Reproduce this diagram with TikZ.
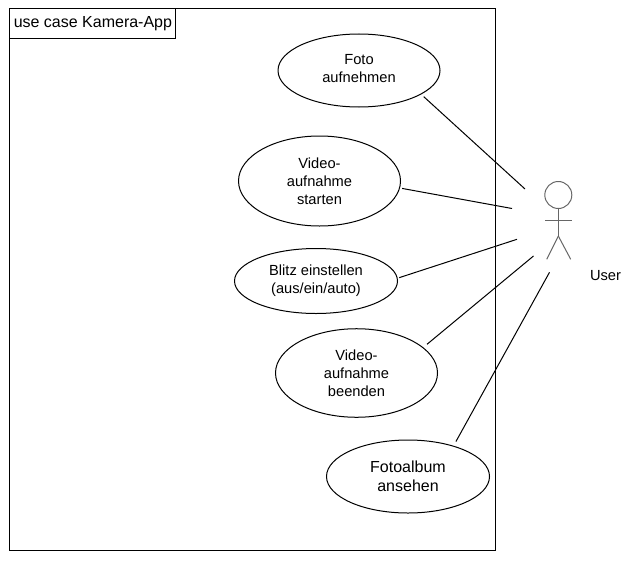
\documentclass[tikz,border=0pt]{standalone}
\usepackage{fontspec}
\setmainfont{Liberation Sans}
\usetikzlibrary{shapes.geometric}
\tikzset{
 px/.style={x=0.75pt,y=-0.75pt},
 uctext/.style={align=center,font=\fontsize{11pt}{13.5pt}\selectfont,text=black},
 uc/.style={draw,ellipse,line width=0.75pt,minimum width=121.5pt,minimum height=54.75pt,inner sep=0pt,uctext},
 ucbig/.style={uc,font=\fontsize{12pt}{14.25pt}\selectfont},
 assoc/.style={line width=0.75pt},
 actorline/.style={line width=0.75pt,draw=black!60}
}
\begin{document}
\begin{tikzpicture}[px]
\useasboundingbox (0,0) rectangle (630,560);
\node[draw,line width=0.75pt,inner sep=0pt,minimum width=364.5pt,minimum height=405.75pt] (sys) at (252,279.5) {};
\node[draw,line width=0.75pt,anchor=north west,inner sep=0pt,minimum width=124.5pt,minimum height=22.25pt] (frame) at (sys.north west) {};
\node[anchor=west,inner sep=0pt,font=\fontsize{12pt}{14pt}\selectfont] (title) at (13.5,24) {use case Kamera-App};
\node[uc,label={[uctext,yshift=1.2pt]center:Foto\\aufnehmen}] (a) at (359,70.5) {};
\node[uc,minimum height=67.5pt] (b) at (319.5,181) {Video-\\aufnahme\\starten};
\node[uc,minimum width=122.25pt,minimum height=48.75pt] (c) at (316,281) {Blitz einstellen\\(aus/ein/auto)};
\node[uc,minimum height=66.4pt] (d) at (356.5,373) {Video-\\aufnahme\\beenden};
\node[ucbig,minimum width=122.25pt] (e) at (408,476.5) {Fotoalbum\\ansehen};
\coordinate (ea) at (525,189);
\coordinate (eb) at (512,208.5);
\coordinate (ec) at (517,239.3);
\coordinate (ed) at (533.5,256);
\coordinate (ee) at (549.5,272.3);
\draw[assoc,shorten <=2.5pt] (a.-21) -- (ea);
\draw[assoc,shorten <=1.6pt] (b.-5) -- (eb);
\draw[assoc,shorten <=1.2pt] (c.2) -- (ec);
\draw[assoc,shorten <=3.6pt] (d.21) -- (ed);
\draw[assoc,shorten <=3.6pt] (e.34) -- (ee);
\node[draw=black!60,circle,line width=0.75pt,minimum size=20.25pt,inner sep=0pt] (head) at (558.3,195) {};
\coordinate (hip) at (558.3,236);
\coordinate (armL) at (545,220.3);
\coordinate (armR) at (572,220.3);
\coordinate (legL) at (546.7,259.3);
\coordinate (legR) at (570.7,259.3);
\draw[actorline] (head.south) -- (hip);
\draw[actorline] (armL) -- (armR);
\draw[actorline] (hip) -- (legL);
\draw[actorline] (hip) -- (legR);
\node[font=\fontsize{11pt}{13pt}\selectfont,inner sep=0pt] (user) at (605.5,276) {User};
\end{tikzpicture}
\end{document}
